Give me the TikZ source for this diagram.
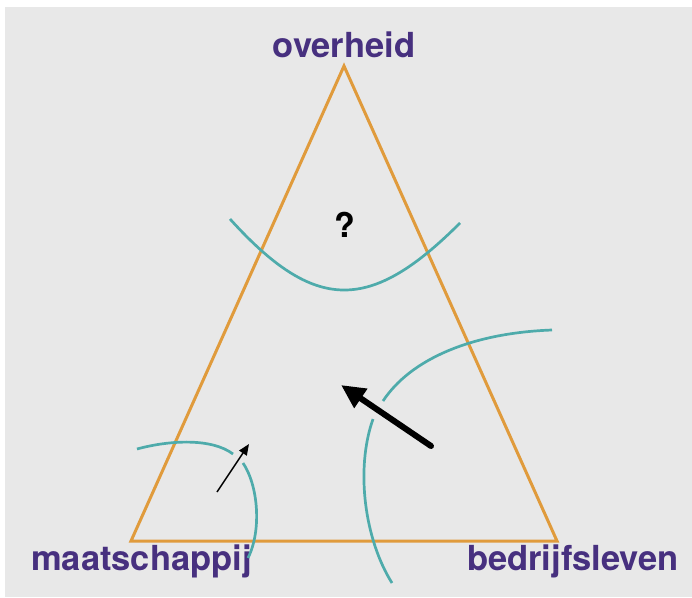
\documentclass[tikz,border=0pt]{standalone}
\usepackage{fontspec}
\setmainfont{TeX Gyre Heros}
\usetikzlibrary{arrows.meta}
\definecolor{bgc}{HTML}{E8E8E8}
\definecolor{tri}{HTML}{E09B3C}
\definecolor{teal2}{HTML}{4EABAB}
\definecolor{purp}{HTML}{47307F}
\tikzset{
  lbl/.style={inner sep=0pt, text=purp, font=\fontsize{34.5}{38}\selectfont\bfseries},
  triline/.style={draw=tri, line width=3pt, line join=miter},
  arc/.style={draw=teal2, line width=2.7pt},
  bigarrow/.style={line width=6pt, line cap=round, -{Triangle[length=24pt,width=22pt]}},
  smallarrow/.style={line width=1.5pt, -{Triangle[length=11pt,width=9pt]}}
}
\begin{document}
\begin{tikzpicture}[x=1pt,y=-1pt]
\useasboundingbox (0,0) rectangle (692,597);
\fill[bgc] (5,7) rectangle (692,597);
% triangle
\coordinate (top) at (344,66);
\coordinate (bl) at (131,541);
\coordinate (br) at (557,541);
\draw[triline] (top) -- (bl) -- (br) -- cycle;
% labels
\node[lbl, anchor=base] (ov) at (344,57) {overheid};
\node[lbl, anchor=base west] (ma) at (31,570) {maatschappij};
\node[lbl, anchor=base east] (be) at (679,570) {bedrijfsleven};
\node[inner sep=0pt, anchor=base, font=\fontsize{34}{38}\selectfont\bfseries] (q) at (345,237) {?};
% teal arcs
\draw[arc] (230,219) .. controls (315,313) and (370,313) .. (460,223);
\draw[arc] (552,330) .. controls (470,333) and (410,360) .. (383,401);
\draw[arc] (373,419) .. controls (355,470) and (365,540) .. (392,583);
\draw[arc] (137,449) .. controls (170,440) and (212,438) .. (233,454);
\draw[arc] (243,463) .. controls (258,485) and (262,530) .. (248,558);
% arrows
\coordinate (bt) at (431,446);
\coordinate (bh) at (341,385);
\draw[bigarrow] (bt) -- (bh);
\coordinate (st) at (217,492);
\coordinate (sh) at (249,444);
\draw[smallarrow] (st) -- (sh);
\end{tikzpicture}
\end{document}
